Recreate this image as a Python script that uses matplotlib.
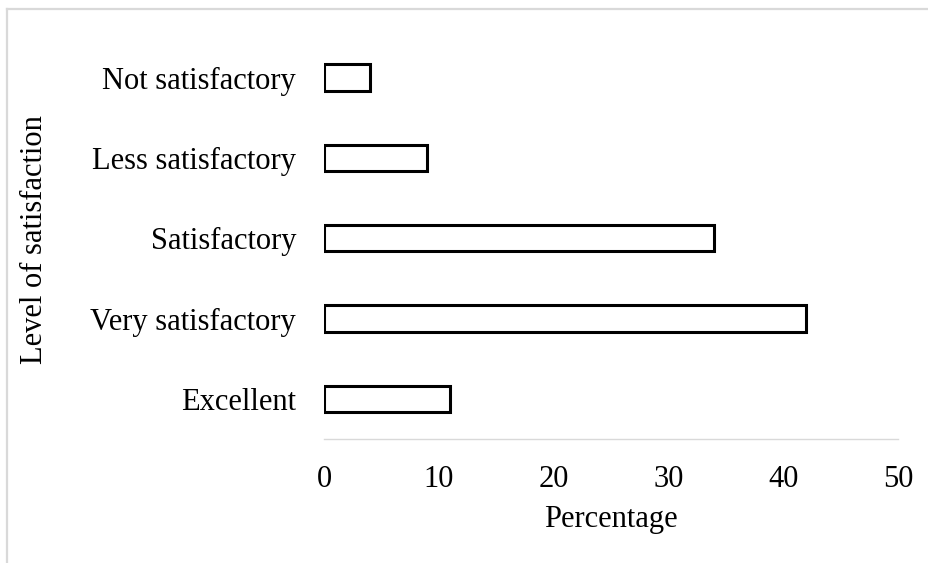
import matplotlib
matplotlib.use("Agg")
import matplotlib.pyplot as plt
from matplotlib.lines import Line2D

categories = ["Excellent", "Very satisfactory", "Satisfactory", "Less satisfactory", "Not satisfactory"]
values = [11, 42, 34, 9, 4]
xticks = [0, 10, 20, 30, 40, 50]

plt.rcParams['font.family'] = ['Liberation Serif', 'DejaVu Serif']

W, H = 929, 563
fig = plt.figure(figsize=(W / 100, H / 100), dpi=100)
fig.patch.set_facecolor('white')

left, right, bottom, top = 324, 898, 439, 37.5
ax = fig.add_axes([left / W, 1 - bottom / H, (right - left) / W, (bottom - top) / H])

y = list(range(len(categories)))
ax.barh(y, values, height=0.33, color='white', edgecolor='black', linewidth=2.2,
        joinstyle='miter')

ax.set_xlim(0, 50)
ax.set_ylim(-0.5, len(categories) - 0.5)
ax.set_xticks(xticks)
ax.set_xticklabels([str(t) for t in xticks], fontsize=22)
ax.set_yticks(y)
ax.set_yticklabels(categories, fontsize=22)
ax.tick_params(axis='x', length=0, pad=18.5)
ax.tick_params(axis='y', length=0, pad=20)

for s in ['top', 'right', 'left']:
    ax.spines[s].set_visible(False)
ax.spines['bottom'].set_color('#d9d9d9')
ax.spines['bottom'].set_linewidth(1.0)

fig.text(611 / W, 1 - 519 / H, "Percentage", fontsize=22, ha='center', va='center')
fig.text(35 / W, 1 - 240 / H, "Level of satisfaction", fontsize=22, ha='center',
         va='center', rotation=90)

# outer chart-area border (top and left edges visible)
fig.add_artist(Line2D([7 / W, 1.0], [1 - 8.5 / H, 1 - 8.5 / H], color='#d9d9d9',
                      linewidth=1.6, transform=fig.transFigure))
fig.add_artist(Line2D([7 / W, 7 / W], [0.0, 1 - 8.5 / H], color='#d9d9d9',
                      linewidth=1.6, transform=fig.transFigure))

fig.savefig("out.png", dpi=100, facecolor='white')
